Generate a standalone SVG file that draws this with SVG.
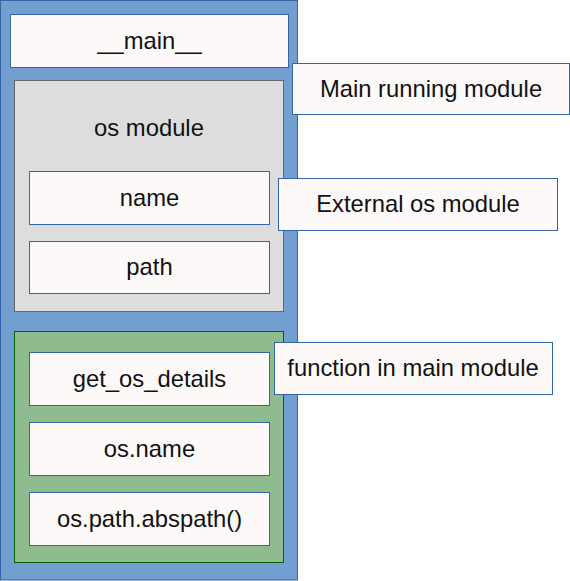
<svg xmlns="http://www.w3.org/2000/svg" width="570" height="581" viewBox="0 0 570 581">
<style>
.box{fill:#fdf9f8;stroke:#3465a4;stroke-width:1}
text{font-family:"Liberation Sans",Arial,sans-serif;font-size:23.8px;fill:#111;text-anchor:middle}
</style>
<rect x="0" y="0" width="570" height="581" fill="#ffffff"/>
<g id="outer"><rect x="0.5" y="0.5" width="297" height="579.5" fill="#729fcf" stroke="#3465a4"/></g>
<g id="main"><rect class="box" x="10.5" y="14.5" width="278" height="53"/><text x="149.5" y="49">__main__</text></g>
<g id="osmodule"><rect x="14.5" y="80.5" width="269" height="231" fill="#dddddd" stroke="#666666"/><text x="149" y="136">os module</text></g>
<g id="name"><rect class="box" x="29.5" y="171.5" width="240" height="53"/><text x="149.5" y="206">name</text></g>
<g id="path"><rect class="box" x="29.5" y="241.5" width="240" height="52"/><text x="149.5" y="275">path</text></g>
<g id="func"><rect x="14.5" y="331.5" width="269" height="231" fill="#8fbc8f" stroke="#006400"/></g>
<g id="get_os_details"><rect class="box" x="29.5" y="352.5" width="240" height="53"/><text x="149.5" y="387">get_os_details</text></g>
<g id="osname"><rect class="box" x="29.5" y="422.5" width="240" height="53"/><text x="149.5" y="457">os.name</text></g>
<g id="abspath"><rect class="box" x="29.5" y="492.5" width="240" height="53"/><text x="149.5" y="527">os.path.abspath()</text></g>
<g id="label1"><rect class="box" x="292.5" y="63.5" width="277" height="51"/><text x="431" y="97">Main running module</text></g>
<g id="label2"><rect class="box" x="278.5" y="178.5" width="279" height="52"/><text x="418" y="212">External os module</text></g>
<g id="label3"><rect class="box" x="274.5" y="342.5" width="278" height="52"/><text x="413" y="376">function in main module</text></g>
<g id="connectors"></g>
</svg>
